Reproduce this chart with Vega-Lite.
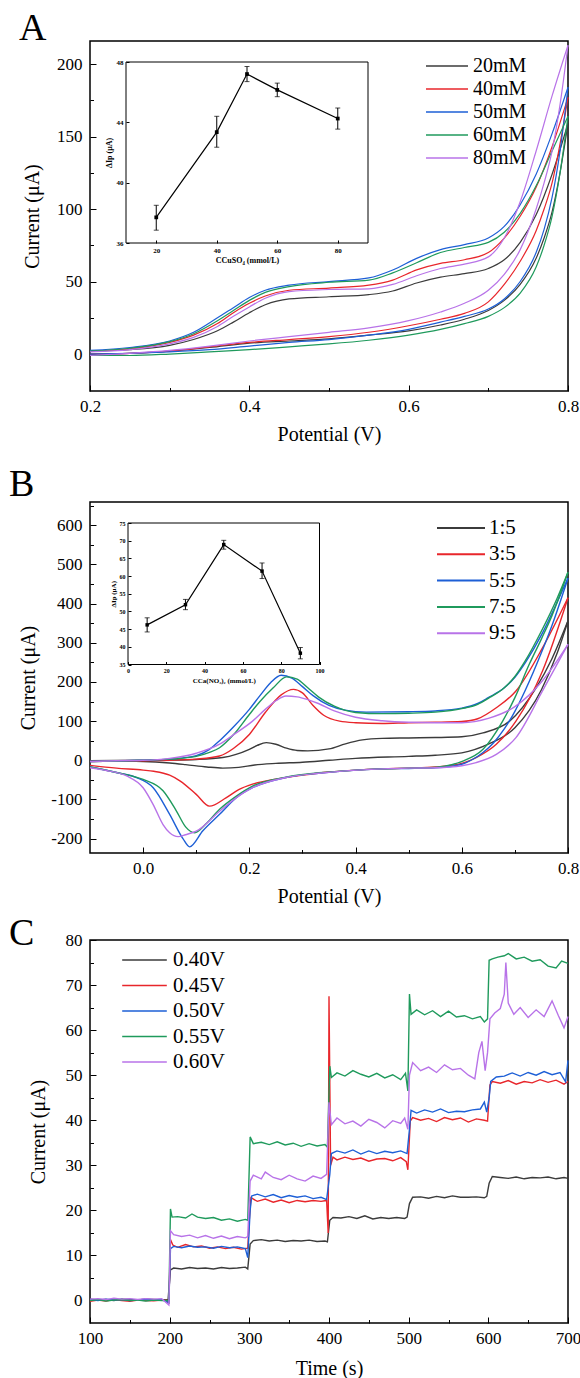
{
  "$schema": "https://vega.github.io/schema/vega-lite/v6.json",
  "autosize": {"type": "pad"},
  "padding": {"left": 8, "top": 9, "right": 0, "bottom": 0},
  "background": "white",
  "bounds": "flush",
  "spacing": 111,
  "resolve": {"scale": {"color": "independent"}},
  "datasets": {
    "cvA": [
      {"s": "20mM", "b": "f", "x": [0.2,0.25,0.3,0.33,0.36,0.38,0.4,0.42,0.45,0.5,0.55,0.58,0.61,0.64,0.67,0.7,0.72,0.74,0.76,0.78,0.8], "y": [2,3,6,10,16,22,28.5,34,38,39.5,41,43.5,49,53,55.5,59,65,77,96,124,159]},
      {"s": "20mM", "b": "r", "x": [0.2,0.25,0.3,0.35,0.4,0.45,0.5,0.55,0.6,0.64,0.67,0.7,0.72,0.74,0.76,0.77,0.78,0.79,0.8], "y": [0,0.5,2,4.5,7.5,9,10.5,13,16,20,24,30,37,48,66,80,98,125,159]},
      {"s": "40mM", "b": "f", "x": [0.2,0.25,0.3,0.33,0.36,0.38,0.4,0.42,0.45,0.5,0.55,0.58,0.61,0.64,0.67,0.7,0.72,0.74,0.76,0.78,0.8], "y": [2,3.5,8,13,21,28.5,35,40,44,45.5,47.5,51,58,62.5,65,70,80,95,115,143,177]},
      {"s": "40mM", "b": "r", "x": [0.2,0.25,0.3,0.35,0.4,0.45,0.5,0.55,0.6,0.64,0.67,0.7,0.72,0.74,0.76,0.77,0.78,0.79,0.8], "y": [0,0.5,2,5,8,10,12,15,19.5,24,28,36,48,64,85,100,118,145,177]},
      {"s": "50mM", "b": "f", "x": [0.2,0.25,0.3,0.33,0.36,0.38,0.4,0.42,0.45,0.5,0.55,0.58,0.61,0.64,0.67,0.7,0.72,0.74,0.76,0.78,0.8], "y": [2.5,4.5,9,15,25,32,39,44,47.5,50,52.5,58,66,72,75.5,80,88,103,124,152,184]},
      {"s": "50mM", "b": "r", "x": [0.2,0.25,0.3,0.35,0.4,0.45,0.5,0.55,0.6,0.64,0.67,0.7,0.72,0.74,0.76,0.77,0.78,0.79,0.8], "y": [0,0.5,1.5,3,5.5,8,10,13,17,22,26,31,38,50,70,86,108,140,184]},
      {"s": "60mM", "b": "f", "x": [0.2,0.25,0.3,0.33,0.36,0.38,0.4,0.42,0.45,0.5,0.55,0.58,0.61,0.64,0.67,0.7,0.72,0.74,0.76,0.78,0.8], "y": [2,4,8.5,14,23,30,37,42.5,46.5,49.5,51,56,63,70,73.5,77,84,97,116,140,164]},
      {"s": "60mM", "b": "r", "x": [0.2,0.25,0.3,0.35,0.4,0.45,0.5,0.55,0.6,0.64,0.67,0.7,0.72,0.74,0.76,0.77,0.78,0.79,0.8], "y": [-1,-1,0,1.5,3,5,7,9.5,13,17,21,26,32,42,60,75,95,125,164]},
      {"s": "80mM", "b": "f", "x": [0.2,0.25,0.3,0.33,0.36,0.38,0.4,0.42,0.45,0.5,0.55,0.58,0.61,0.64,0.67,0.7,0.72,0.74,0.76,0.78,0.8], "y": [1.5,3,7,11.5,19,26,32.5,38.5,43,44.5,45,48,54,59,62,67,80,105,140,178,213]},
      {"s": "80mM", "b": "r", "x": [0.2,0.25,0.3,0.35,0.4,0.45,0.5,0.55,0.6,0.64,0.67,0.7,0.72,0.74,0.76,0.77,0.78,0.79,0.8], "y": [-1,0.5,2.5,5.5,9,12,15,18,23,29,35,44,55,72,100,118,140,172,213]}
    ],
    "insA": [
      {"c": 20, "v": 37.7, "lo": 36.85, "hi": 38.5},
      {"c": 40, "v": 43.35, "lo": 42.35, "hi": 44.4},
      {"c": 50, "v": 47.2, "lo": 46.7, "hi": 47.7},
      {"c": 60, "v": 46.15, "lo": 45.7, "hi": 46.6},
      {"c": 80, "v": 44.25, "lo": 43.55, "hi": 44.95}
    ],
    "cvB": [
      {"s": "1:5", "b": "f", "x": [-0.1,0,0.05,0.1,0.15,0.175,0.2,0.215,0.232,0.25,0.27,0.29,0.31,0.35,0.381,0.413,0.45,0.5,0.55,0.6,0.64,0.69,0.74,0.77,0.8], "y": [-1,0,0.5,2,7,15,28,38,45,41,31,25,24,29,42,52,56,57,58,60,70,100,185,260,356]},
      {"s": "1:5", "b": "r", "x": [-0.1,-0.05,0,0.05,0.08,0.12,0.15,0.18,0.21,0.25,0.3,0.35,0.4,0.5,0.55,0.6,0.65,0.7,0.75,0.78,0.8], "y": [-1,-2,-3,-7,-11,-17,-20,-18,-12,-8,-5,0,5,10,13,19,41,83,180,275,356]},
      {"s": "3:5", "b": "f", "x": [-0.1,-0.05,0,0.05,0.1,0.144,0.17,0.2,0.23,0.26,0.283,0.3,0.32,0.34,0.37,0.4,0.45,0.5,0.55,0.6,0.63,0.665,0.702,0.752,0.8], "y": [-3,-2,-1,0,3,11,30,66,122,167,181,172,140,115,100,96,94,96,97,99,106,134,177,287,415]},
      {"s": "3:5", "b": "r", "x": [-0.1,-0.05,0,0.02,0.05,0.07,0.1,0.125,0.156,0.18,0.206,0.25,0.3,0.35,0.4,0.45,0.5,0.55,0.6,0.627,0.665,0.702,0.752,0.8], "y": [-13,-20,-25,-28,-38,-53,-87,-117,-96,-75,-61,-48,-38,-30,-25,-22,-20,-17,-8,7,41,100,228,415]},
      {"s": "5:5", "b": "f", "x": [-0.1,-0.05,0,0.05,0.1,0.125,0.144,0.17,0.2,0.22,0.24,0.26,0.28,0.3,0.32,0.35,0.38,0.42,0.5,0.55,0.6,0.63,0.65,0.68,0.7,0.72,0.75,0.78,0.8], "y": [-3,-2,0,3,12,28,50,85,130,165,198,217,210,188,165,140,128,123,124,126,133,145,160,185,212,250,320,405,465]},
      {"s": "5:5", "b": "r", "x": [-0.1,-0.044,-0.0125,0.019,0.05,0.075,0.0875,0.1125,0.144,0.175,0.206,0.269,0.331,0.381,0.45,0.5,0.55,0.6,0.62,0.64,0.66,0.68,0.7,0.72,0.75,0.77,0.8], "y": [-17,-33,-44,-70,-138,-200,-221,-180,-138,-96,-70,-44,-33,-27,-22,-21,-19,-10,2,20,45,80,125,180,275,345,465]},
      {"s": "7:5", "b": "f", "x": [-0.1,-0.05,0,0.05,0.1,0.125,0.144,0.17,0.2,0.22,0.245,0.27,0.29,0.31,0.33,0.36,0.4,0.45,0.5,0.55,0.6,0.63,0.65,0.68,0.7,0.72,0.75,0.78,0.8], "y": [-3,-2,0,3,10,20,32,65,117,150,185,213,207,185,162,138,122,119,120,123,132,143,158,185,214,255,330,415,480]},
      {"s": "7:5", "b": "r", "x": [-0.1,-0.044,0,0.0375,0.0625,0.08,0.097,0.12,0.144,0.175,0.206,0.269,0.331,0.381,0.45,0.5,0.539,0.602,0.64,0.677,0.7,0.727,0.75,0.77,0.8], "y": [-17,-33,-49,-78,-129,-170,-185,-160,-125,-92,-66,-43,-32,-27,-22,-20,-19,-2,28,100,160,245,310,370,480]},
      {"s": "9:5", "b": "f", "x": [-0.1,-0.05,0,0.05,0.1,0.144,0.17,0.206,0.23,0.25,0.269,0.29,0.31,0.33,0.36,0.4,0.45,0.5,0.55,0.6,0.65,0.7,0.75,0.8], "y": [-3,-1,0,5,18,41,65,100,130,152,164,162,155,145,126,110,101,97,96,96,107,137,200,296]},
      {"s": "9:5", "b": "r", "x": [-0.1,-0.069,-0.031,0,0.019,0.0375,0.05,0.066,0.08,0.1,0.144,0.175,0.206,0.269,0.331,0.381,0.45,0.5,0.55,0.6,0.627,0.665,0.702,0.752,0.8], "y": [-19,-26,-40,-70,-113,-164,-185,-195,-190,-181,-130,-96,-70,-44,-33,-27,-22,-20,-19,-14,-6,15,58,177,296]}
    ],
    "insB": [
      {"c": 10, "v": 46.2, "lo": 44.2, "hi": 48.2},
      {"c": 30, "v": 51.9, "lo": 50.5, "hi": 53.4},
      {"c": 50, "v": 68.9, "lo": 67.6, "hi": 70.1},
      {"c": 70, "v": 61.4, "lo": 59.3, "hi": 63.7},
      {"c": 90, "v": 38.2, "lo": 36.6, "hi": 39.8}
    ],
    "ca": [
      {"s": "0.40V", "t": [100,110,120,130,140,150,160,170,180,190,198,201,205,215,225,235,245,255,265,275,285,295,298,301,305,315,325,335,345,355,365,375,385,395,398,401,405,415,425,435,445,455,465,475,485,495,498,501,505,515,525,535,545,555,565,575,585,595,598,601,605,615,625,635,645,655,665,675,685,695,700], "v": [0.3,0.1,0.2,0.0,0.3,0.2,0.1,0.3,0.2,0.1,0.2,6.8,7.2,7.0,7.3,7.1,7.2,7.0,7.3,7.1,7.2,7.4,7.0,12.5,13.3,13.5,13.2,13.4,13.1,13.3,13.2,13.4,13.1,13.2,13.0,17.8,18.4,18.3,18.6,18.2,18.8,18.1,18.4,18.2,18.4,18.2,18.5,21.5,22.9,23.0,22.7,23.1,22.8,23.2,22.9,22.9,23.0,22.8,23.1,26.0,27.5,27.3,27.1,27.4,27.0,27.3,27.2,27.4,27.0,27.3,27.1]},
      {"s": "0.45V", "t": [100,110,120,130,140,150,160,170,180,190,197,199,201,204,210,220,230,240,250,260,270,280,290,298,300,302,310,320,330,340,350,360,370,380,390,397,399,400,402,405,410,420,430,440,450,460,470,480,490,497,499,502,505,515,525,535,545,555,565,575,585,595,599,602,605,615,625,635,645,655,665,675,685,695,700], "v": [-0.2,0.1,-0.1,0.2,0.0,-0.2,0.1,0.0,-0.1,0.1,0.0,-0.8,13.5,12.3,11.8,12.4,11.9,12.1,11.6,11.9,11.5,11.8,11.4,11.6,18.0,22.8,22.0,22.5,21.8,22.3,21.7,22.2,21.9,22.2,22.0,22.2,15.0,67.5,30.0,31.8,31.2,31.8,31.3,31.6,30.9,31.4,31.5,31.0,31.7,30.8,29.0,39.8,40.6,40.0,40.4,39.7,40.6,40.1,40.5,39.6,40.3,40.0,39.8,47.8,48.6,48.2,48.8,48.0,48.6,48.3,49.0,48.4,48.9,48.0,48.6]},
      {"s": "0.50V", "t": [100,110,120,130,140,150,160,170,180,190,199,201,205,215,225,235,245,255,265,275,285,295,298,301,303,310,320,330,340,350,360,370,380,390,397,401,403,410,420,430,440,450,460,470,480,490,498,501,503,510,520,530,540,550,560,570,580,590,595,598,601,603,610,620,630,640,650,660,670,680,690,697,700], "v": [0.2,0.0,0.3,0.1,0.2,0.0,0.1,0.3,0.1,0.2,-0.5,11.5,12.0,11.7,12.1,11.8,11.9,11.6,12.0,11.7,11.9,11.5,9.5,20.0,23.2,23.6,23.0,23.5,22.8,23.3,22.9,23.2,22.6,22.9,22.4,28.0,32.6,33.2,32.7,33.4,32.5,33.2,32.6,33.1,32.8,33.2,32.6,38.0,42.2,41.6,42.3,41.8,42.5,41.7,42.0,41.9,42.3,42.5,44.0,41.8,45.0,48.6,49.6,49.8,50.5,49.8,50.6,50.0,50.8,50.1,50.6,48.5,53.3]},
      {"s": "0.55V", "t": [100,110,120,130,140,150,160,170,180,190,199,201,203,210,220,228,235,245,255,265,275,285,295,298,300,301,305,315,325,335,345,355,365,375,385,395,398,401,403,410,420,430,440,450,460,470,480,490,496,499,501,503,510,520,530,540,550,560,570,580,590,595,599,601,605,612,620,625,635,645,655,665,675,685,692,700], "v": [0.0,0.2,-0.1,0.1,0.2,0.0,0.1,-0.1,0.1,0.0,0.0,20.3,18.5,18.6,18.3,19.2,18.5,18.2,18.4,17.8,18.1,17.6,18.0,17.8,30.0,36.3,34.8,35.1,34.6,35.2,34.5,34.9,34.2,34.8,34.3,34.6,34.0,52.0,49.5,50.5,49.8,51.0,50.2,49.6,50.4,49.4,50.1,49.0,50.4,46.5,68.0,63.5,64.5,63.4,64.3,63.0,64.2,62.9,63.2,62.5,63.0,61.8,62.5,75.5,75.8,76.2,76.5,77.0,75.8,76.2,75.3,75.6,74.2,73.8,75.3,74.8]},
      {"s": "0.60V", "t": [100,110,120,130,140,150,160,170,180,190,199,201,205,215,225,235,245,255,265,275,285,295,298,301,305,315,320,330,340,350,360,370,380,390,397,400,403,410,420,430,440,450,460,470,480,490,495,499,501,505,515,525,535,545,555,565,575,583,588,592,596,599,602,608,615,620,622,625,632,640,650,660,670,680,688,695,700], "v": [0.3,0.4,0.2,0.5,0.3,0.4,0.2,0.4,0.3,0.4,-1.0,15.5,14.6,14.2,14.5,13.9,14.4,13.8,14.3,13.7,14.2,13.9,14.2,26.5,27.8,27.0,28.5,27.3,26.8,27.8,27.0,26.5,27.6,27.1,28.0,44.0,39.0,40.5,39.2,39.8,38.7,40.2,39.5,38.3,39.9,39.3,40.5,38.0,50.0,52.8,51.0,51.8,50.6,52.3,51.2,51.5,50.0,49.2,55.0,57.5,51.0,55.0,62.5,63.8,64.8,68.0,75.0,66.0,63.5,65.0,62.8,64.5,63.0,66.5,63.2,60.5,63.0]}
    ]
  },
  "vconcat": [
    {
      "width": 478,
      "height": 350,
      "title": {"text": "A", "anchor": "start", "frame": "group", "dx": -71, "offset": -37, "baseline": "alphabetic", "fontSize": 38, "font": "Liberation Serif", "fontWeight": "normal", "color": "black"},
      "resolve": {"scale": {"x": "independent", "y": "independent"}},
      "layer": [
        {
          "data": {"name": "cvA"},
          "transform": [{"flatten": ["x", "y"]}],
          "mark": {"type": "line", "strokeWidth": 1.2, "interpolate": "monotone"},
          "encoding": {
            "x": {"field": "x", "type": "quantitative", "scale": {"domain": [0.2, 0.8], "nice": false, "zero": false},
                  "axis": {"orient": "bottom", "title": "Potential (V)", "values": [0.2,0.3,0.4,0.5,0.6,0.7,0.8], "labelExpr": "abs(round(datum.value*10)) % 2 == 0 ? format(datum.value, '.1f') : ''", "tickSize": {"condition": {"test": "abs(round(datum.value*10)) % 2 == 0", "value": -6}, "value": -3.5}, "labelPadding": 13, "titlePadding": 8, "labelFlush": false, "labelOverlap": false}},
            "y": {"field": "y", "type": "quantitative", "scale": {"domain": [-25.5, 215.9], "nice": false, "zero": false},
                  "axis": {"orient": "left", "title": "Current (μA)", "values": [0,25,50,75,100,125,150,175,200], "labelExpr": "datum.value % 50 == 0 ? datum.label : ''", "tickSize": {"condition": {"test": "datum.value % 50 == 0", "value": -6}, "value": -3.5}, "labelPadding": 14, "titlePadding": 14, "labelOverlap": false}},
            "color": {"field": "s", "type": "nominal",
                      "scale": {"domain": ["20mM", "40mM", "50mM", "60mM", "80mM"], "range": ["#3b3b3b", "#e8262b", "#1d5fd6", "#1f9a5c", "#b873e8"]},
                      "legend": {"orient": "none", "legendX": 335, "legendY": 15, "title": null, "symbolType": "stroke", "symbolSize": 1764, "symbolStrokeWidth": 1.3, "clipHeight": 20, "rowPadding": 3, "labelOffset": 4, "labelFontSize": 20, "labelFont": "Liberation Serif", "labelColor": "black", "padding": 0}},
            "detail": {"field": "b"}
          }
        },
        {
          "layer": [
            {
              "data": {"values": [{}]},
              "mark": {"type": "rect", "fill": null, "stroke": "black", "strokeWidth": 1},
              "encoding": {
                "x": {"datum": 10, "type": "quantitative", "scale": {"domain": [10, 90], "range": [36, 278], "nice": false, "zero": false},
                      "axis": {"orient": "bottom", "offset": -148, "values": [20, 40, 60, 80], "tickSize": -3, "labelPadding": 6, "labelFontSize": 7, "labelFontWeight": "bold", "labelColor": "black", "labelFlush": false, "labelOverlap": false, "title": "CCuSO₄ (mmol/L)", "titleFontSize": 8, "titleFontWeight": "bold", "titlePadding": 3, "domain": false, "zindex": 2}},
                "x2": {"datum": 90},
                "y": {"datum": 36, "type": "quantitative", "scale": {"domain": [36, 48], "range": [202, 21], "nice": false, "zero": false},
                      "axis": {"orient": "left", "offset": -36, "values": [36, 40, 44, 48], "tickSize": -3, "labelPadding": 6, "labelFontSize": 7, "labelFontWeight": "bold", "labelColor": "black", "labelOverlap": false, "title": "ΔIp (μA)", "titleFontSize": 8, "titleFontWeight": "bold", "titlePadding": 3, "domain": false, "zindex": 2}},
                "y2": {"datum": 48}
              }
            },
            {
              "data": {"name": "insA"},
              "mark": {"type": "line", "color": "black", "strokeWidth": 1.2},
              "encoding": {"x": {"field": "c", "type": "quantitative"}, "y": {"field": "v", "type": "quantitative"}}
            },
            {
              "data": {"name": "insA"},
              "mark": {"type": "rule", "color": "black", "strokeWidth": 1},
              "encoding": {"x": {"field": "c", "type": "quantitative"}, "y": {"field": "lo", "type": "quantitative"}, "y2": {"field": "hi"}}
            },
            {
              "data": {"name": "insA"},
              "mark": {"type": "tick", "orient": "horizontal", "size": 5, "thickness": 1, "color": "black"},
              "encoding": {"x": {"field": "c", "type": "quantitative"}, "y": {"field": "lo", "type": "quantitative"}}
            },
            {
              "data": {"name": "insA"},
              "mark": {"type": "tick", "orient": "horizontal", "size": 5, "thickness": 1, "color": "black"},
              "encoding": {"x": {"field": "c", "type": "quantitative"}, "y": {"field": "hi", "type": "quantitative"}}
            },
            {
              "data": {"name": "insA"},
              "mark": {"type": "square", "size": 14, "filled": true, "color": "black", "opacity": 1},
              "encoding": {"x": {"field": "c", "type": "quantitative"}, "y": {"field": "v", "type": "quantitative"}}
            }
          ]
        }
      ]
    },
    {
      "bounds": "flush",
      "spacing": 87,
      "resolve": {"scale": {"color": "independent"}},
      "vconcat": [
        {
          "width": 478,
          "height": 351,
          "title": {"text": "B", "anchor": "start", "frame": "group", "dx": -81, "offset": -37, "baseline": "alphabetic", "fontSize": 38, "font": "Liberation Serif", "fontWeight": "normal", "color": "black"},
          "resolve": {"scale": {"x": "independent", "y": "independent"}},
          "layer": [
            {
              "data": {"name": "cvB"},
              "transform": [{"flatten": ["x", "y"]}],
              "mark": {"type": "line", "strokeWidth": 1.4, "interpolate": "monotone"},
              "encoding": {
                "x": {"field": "x", "type": "quantitative", "scale": {"domain": [-0.1, 0.8], "nice": false, "zero": false},
                      "axis": {"orient": "bottom", "title": "Potential (V)", "values": [0,0.1,0.2,0.3,0.4,0.5,0.6,0.7,0.8], "labelExpr": "abs(round(datum.value*10)) % 2 == 0 ? format(datum.value, '.1f') : ''", "tickSize": {"condition": {"test": "abs(round(datum.value*10)) % 2 == 0", "value": -6}, "value": -3.5}, "labelPadding": 13, "titlePadding": 8, "labelFlush": false, "labelOverlap": false}},
                "y": {"field": "y", "type": "quantitative", "scale": {"domain": [-236.7, 659.4], "nice": false, "zero": false},
                      "axis": {"orient": "left", "title": "Current (μA)", "values": [-200,-150,-100,-50,0,50,100,150,200,250,300,350,400,450,500,550,600,650], "labelExpr": "datum.value % 100 == 0 ? (datum.value < 0 ? '-' + abs(datum.value) : datum.label) : ''", "tickSize": {"condition": {"test": "datum.value % 100 == 0", "value": -6}, "value": -3.5}, "labelPadding": 14, "titlePadding": 12, "labelOverlap": false}},
                "color": {"field": "s", "type": "nominal",
                          "scale": {"domain": ["1:5", "3:5", "5:5", "7:5", "9:5"], "range": ["#3b3b3b", "#e8262b", "#1d5fd6", "#1f9a5c", "#b873e8"]},
                          "legend": {"orient": "none", "legendX": 346, "legendY": 16, "title": null, "symbolType": "stroke", "symbolSize": 2304, "symbolStrokeWidth": 2, "clipHeight": 20, "rowPadding": 5.3, "labelOffset": 3, "labelFontSize": 21, "labelFont": "Liberation Serif", "labelColor": "black", "padding": 0}},
                "detail": {"field": "b"}
              }
            },
            {
              "layer": [
                {
                  "data": {"values": [{}]},
                  "mark": {"type": "rect", "fill": null, "stroke": "black", "strokeWidth": 1},
                  "encoding": {
                    "x": {"datum": 0, "type": "quantitative", "scale": {"domain": [0, 100], "range": [38, 229.5], "nice": false, "zero": false},
                          "axis": {"orient": "bottom", "offset": -188.5, "values": [0, 20, 40, 60, 80, 100], "tickSize": -3, "labelPadding": 6, "labelFontSize": 6, "labelFontWeight": "bold", "labelColor": "black", "labelFlush": false, "labelOverlap": false, "title": "CCa(NO₃)₂ (mmol/L)", "titleFontSize": 7, "titleFontWeight": "bold", "titlePadding": 3, "domain": false, "zindex": 2}},
                    "x2": {"datum": 100},
                    "y": {"datum": 35, "type": "quantitative", "scale": {"domain": [35, 75], "range": [162.5, 21], "nice": false, "zero": false},
                          "axis": {"orient": "left", "offset": -38, "values": [35, 40, 45, 50, 55, 60, 65, 70, 75], "tickSize": -3, "labelPadding": 6, "labelFontSize": 6, "labelFontWeight": "bold", "labelColor": "black", "labelOverlap": false, "title": "ΔIp (μA)", "titleFontSize": 7, "titleFontWeight": "bold", "titlePadding": 3, "domain": false, "zindex": 2}},
                    "y2": {"datum": 75}
                  }
                },
                {
                  "data": {"name": "insB"},
                  "mark": {"type": "line", "color": "black", "strokeWidth": 1.2},
                  "encoding": {"x": {"field": "c", "type": "quantitative"}, "y": {"field": "v", "type": "quantitative"}}
                },
                {
                  "data": {"name": "insB"},
                  "mark": {"type": "rule", "color": "black", "strokeWidth": 1},
                  "encoding": {"x": {"field": "c", "type": "quantitative"}, "y": {"field": "lo", "type": "quantitative"}, "y2": {"field": "hi"}}
                },
                {
                  "data": {"name": "insB"},
                  "mark": {"type": "tick", "orient": "horizontal", "size": 5, "thickness": 1, "color": "black"},
                  "encoding": {"x": {"field": "c", "type": "quantitative"}, "y": {"field": "lo", "type": "quantitative"}}
                },
                {
                  "data": {"name": "insB"},
                  "mark": {"type": "tick", "orient": "horizontal", "size": 5, "thickness": 1, "color": "black"},
                  "encoding": {"x": {"field": "c", "type": "quantitative"}, "y": {"field": "hi", "type": "quantitative"}}
                },
                {
                  "data": {"name": "insB"},
                  "mark": {"type": "square", "size": 12, "filled": true, "color": "black", "opacity": 1},
                  "encoding": {"x": {"field": "c", "type": "quantitative"}, "y": {"field": "v", "type": "quantitative"}}
                }
              ]
            }
          ]
        },
        {
          "width": 478,
          "height": 383,
          "title": {"text": "C", "anchor": "start", "frame": "group", "dx": -81, "offset": -52, "baseline": "alphabetic", "fontSize": 38, "font": "Liberation Serif", "fontWeight": "normal", "color": "black"},
          "data": {"name": "ca"},
          "transform": [{"flatten": ["t", "v"]}],
          "mark": {"type": "line", "strokeWidth": 1.4},
          "encoding": {
            "x": {"field": "t", "type": "quantitative", "scale": {"domain": [100, 700], "nice": false, "zero": false},
                  "axis": {"orient": "bottom", "title": "Time (s)", "values": [100,150,200,250,300,350,400,450,500,550,600,650,700], "labelExpr": "datum.value % 100 == 0 ? datum.label : ''", "tickSize": {"condition": {"test": "datum.value % 100 == 0", "value": -6}, "value": -3.5}, "labelPadding": 13, "titlePadding": 10, "labelFlush": false, "labelOverlap": false}},
            "y": {"field": "v", "type": "quantitative", "scale": {"domain": [-5, 80], "nice": false, "zero": false},
                  "axis": {"orient": "left", "title": "Current (μA)", "values": [0,5,10,15,20,25,30,35,40,45,50,55,60,65,70,75,80], "labelExpr": "datum.value % 10 == 0 ? datum.label : ''", "tickSize": {"condition": {"test": "datum.value % 10 == 0", "value": -6}, "value": -3.5}, "labelPadding": 14, "titlePadding": 17, "labelOverlap": false}},
            "color": {"field": "s", "type": "nominal",
                      "scale": {"domain": ["0.40V", "0.45V", "0.50V", "0.55V", "0.60V"], "range": ["#3b3b3b", "#e8262b", "#1d5fd6", "#1f9a5c", "#b873e8"]},
                      "legend": {"orient": "none", "legendX": 31, "legendY": 10, "title": null, "symbolType": "stroke", "symbolSize": 1990, "symbolStrokeWidth": 1.5, "clipHeight": 20, "rowPadding": 4.5, "labelOffset": 5, "labelFontSize": 21, "labelFont": "Liberation Serif", "labelColor": "black", "padding": 0}}
          }
        }
      ]
    }
  ],
  "config": {
    "view": {"stroke": "black", "strokeWidth": 1.5},
    "axis": {"labelFont": "Liberation Serif", "labelFontSize": 17, "labelColor": "black", "titleFont": "Liberation Serif", "titleFontSize": 20, "titleFontWeight": "normal", "titleColor": "black", "tickColor": "black", "tickWidth": 1, "domain": false, "grid": false},
    "legend": {"labelFont": "Liberation Serif"}
  }
}
